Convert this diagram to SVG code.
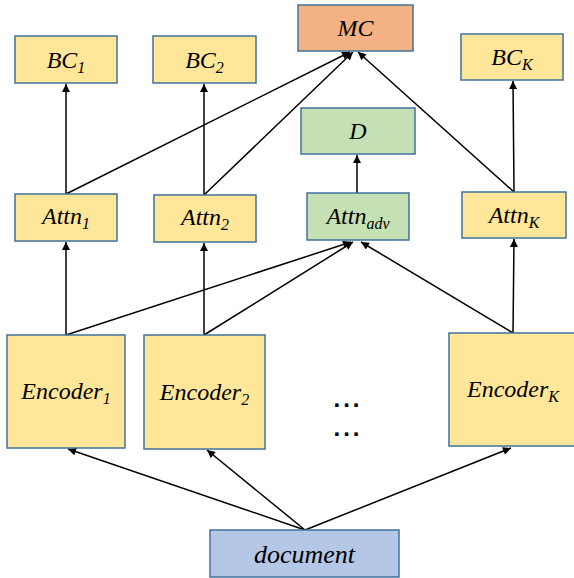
<svg xmlns="http://www.w3.org/2000/svg" width="574" height="578" viewBox="0 0 574 578">
<defs>
<marker id="arr" viewBox="0 0 10 10" refX="10" refY="5" markerWidth="9" markerHeight="8" markerUnits="userSpaceOnUse" orient="auto">
<path d="M0,0 L10,5 L0,10 z" fill="#000"/>
</marker>
<style>
.box{stroke:#41719C;stroke-width:1.5}
.y{fill:#FFE699}
.g{fill:#C5E0B4}
.o{fill:#F4B183}
.b{fill:#B4C7E7}
.t{font-family:"Liberation Serif","Times New Roman",serif;font-style:italic;font-size:24px;fill:#000;text-anchor:middle}
.s{font-size:16px}
.c line{stroke:#000;stroke-width:1.5;marker-end:url(#arr)}
.dots{font-family:"Liberation Sans",Arial,sans-serif;font-weight:bold;font-size:24px;letter-spacing:3px;text-anchor:middle;fill:#000}
</style>
</defs>
<rect width="574" height="578" fill="#fff"/>
<g class="c" id="connectors">
<line x1="305" y1="530" x2="68" y2="449"/>
<line x1="305" y1="530" x2="207" y2="450"/>
<line x1="305" y1="530" x2="511" y2="448"/>
<line x1="66" y1="335" x2="66" y2="242"/>
<line x1="204" y1="335" x2="204" y2="243"/>
<line x1="513" y1="333" x2="514" y2="239"/>
<line x1="66" y1="335" x2="351" y2="242"/>
<line x1="204" y1="335" x2="353" y2="242"/>
<line x1="513" y1="333" x2="361" y2="242"/>
<line x1="357" y1="193" x2="357" y2="155"/>
<line x1="66" y1="194" x2="66" y2="84"/>
<line x1="204" y1="195" x2="204" y2="84"/>
<line x1="514" y1="192" x2="513" y2="81"/>
<line x1="66" y1="194" x2="350" y2="52"/>
<line x1="204" y1="195" x2="353" y2="52"/>
<line x1="514" y1="192" x2="358" y2="52"/>
</g>
<g id="MC"><rect class="box o" x="298" y="5" width="115" height="46"/><text class="t" x="355.5" y="36">MC</text></g>
<g id="BC1"><rect class="box y" x="15" y="36" width="102" height="47"/><text class="t" x="66" y="68">BC<tspan class="s" dy="5">1</tspan></text></g>
<g id="BC2"><rect class="box y" x="153" y="36" width="103" height="47"/><text class="t" x="204.5" y="68">BC<tspan class="s" dy="5">2</tspan></text></g>
<g id="BCK"><rect class="box y" x="461" y="34" width="102" height="46"/><text class="t" x="512" y="65">BC<tspan class="s" dy="5">K</tspan></text></g>
<g id="D"><rect class="box g" x="301" y="108" width="114" height="46"/><text class="t" x="358" y="139">D</text></g>
<g id="Attn1"><rect class="box y" x="15" y="194" width="102" height="47"/><text class="t" x="66" y="224">Attn<tspan class="s" dy="5">1</tspan></text></g>
<g id="Attn2"><rect class="box y" x="154" y="195" width="102" height="47"/><text class="t" x="205" y="225">Attn<tspan class="s" dy="5">2</tspan></text></g>
<g id="Attnadv"><rect class="box g" x="307" y="193" width="102" height="47"/><text class="t" x="358" y="224">Attn<tspan class="s" dy="5">adv</tspan></text></g>
<g id="AttnK"><rect class="box y" x="462" y="192" width="104" height="46"/><text class="t" x="514" y="223">Attn<tspan class="s" dy="5">K</tspan></text></g>
<g id="Encoder1"><rect class="box y" x="7" y="335" width="118" height="113"/><text class="t" x="66" y="399">Encoder<tspan class="s" dy="5">1</tspan></text></g>
<g id="Encoder2"><rect class="box y" x="144" y="335" width="121" height="114"/><text class="t" x="204.5" y="400">Encoder<tspan class="s" dy="5">2</tspan></text></g>
<g id="EncoderK"><rect class="box y" x="449" y="333" width="130" height="113"/><text class="t" x="513" y="397">Encoder<tspan class="s" dy="5">K</tspan></text></g>
<g id="dots"><text class="dots" x="348" y="407">...</text><text class="dots" x="348" y="436">...</text></g>
<g id="document"><rect class="box b" x="210" y="530" width="189" height="47"/><text class="t" x="304.5" y="563" style="font-size:26px">document</text></g>
</svg>
